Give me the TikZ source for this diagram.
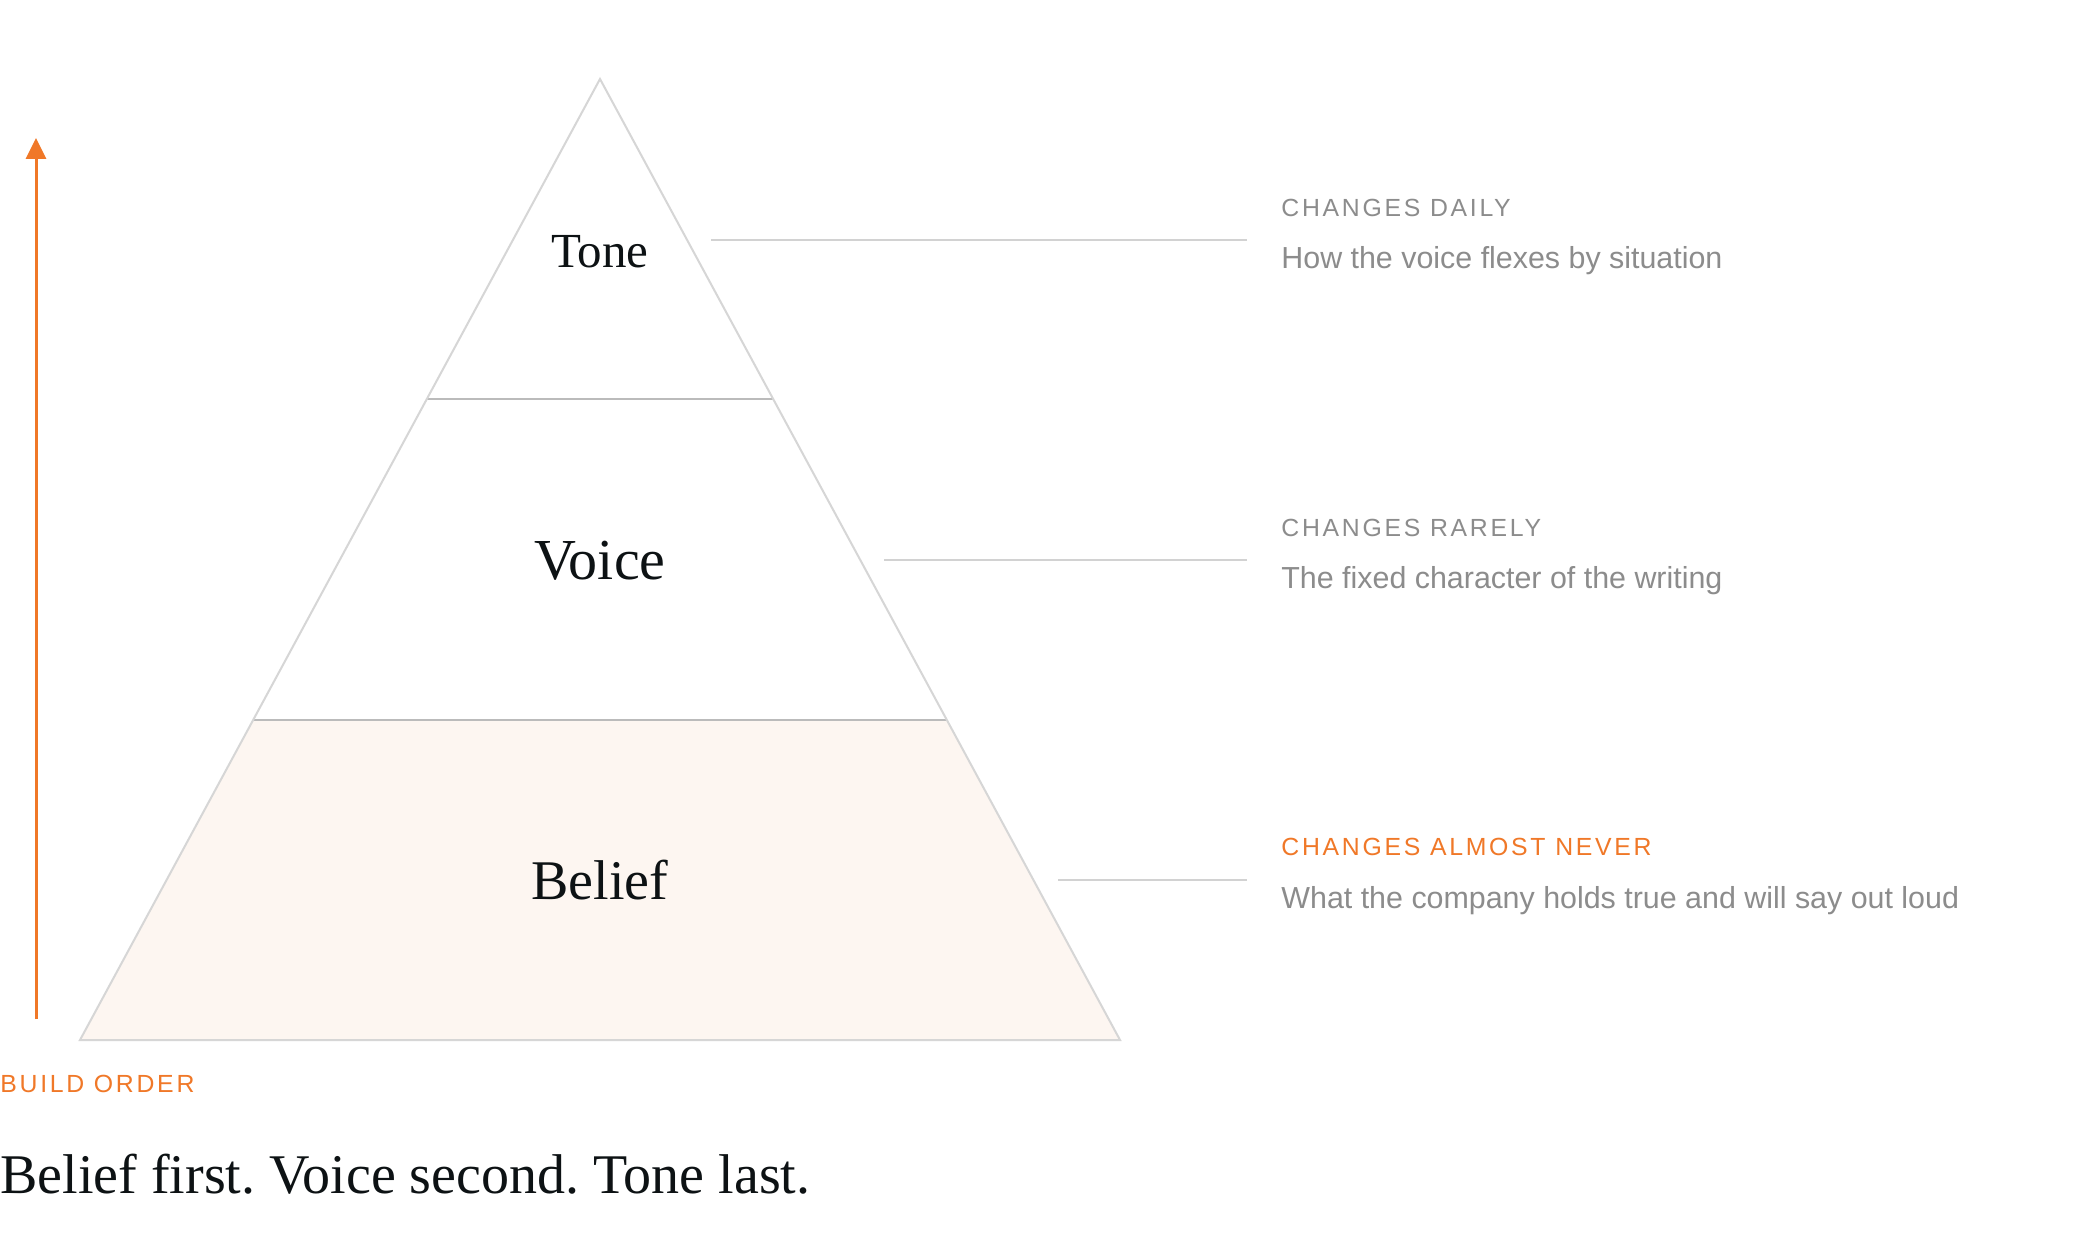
\documentclass[tikz,border=0pt]{standalone}
\usepackage{fontspec}
\setmainfont{Liberation Serif}
\newfontfamily\descfont{Liberation Sans}
\newfontfamily\capfont[LetterSpace=11]{Liberation Sans}
\usetikzlibrary{arrows.meta,calc}
\definecolor{accent}{HTML}{F07828}
\definecolor{inktext}{HTML}{0D1214}
\definecolor{greytext}{HTML}{8C8C8C}
\definecolor{edgegrey}{HTML}{D6D6D6}
\definecolor{divgrey}{HTML}{BBBBBB}
\definecolor{leadgrey}{HTML}{D2D2D2}
\definecolor{beliefbg}{HTML}{FDF6F1}
\frenchspacing
\tikzset{
  layerlabel/.style={anchor=base,inner sep=0pt,text=inktext},
  headlabel/.style={anchor=base west,inner sep=0pt,text=greytext,font=\capfont\fontsize{12.4}{14}\selectfont},
  desclabel/.style={anchor=base west,inner sep=0pt,text=greytext,font=\descfont\fontsize{15.2}{18}\selectfont},
  leader/.style={draw=leadgrey,line width=1pt},
  divider/.style={draw=divgrey,line width=1pt},
}
\begin{document}
\begin{tikzpicture}[x=0.5pt,y=-0.5pt]
\useasboundingbox[fill=white] (0,0) rectangle (2080,1240);
% pyramid corners
\coordinate (apex) at (600,79);
\coordinate (bl) at (80,1040);
\coordinate (br) at (1120,1040);
\coordinate (d1l) at ($(apex)!1/3!(bl)$);
\coordinate (d1r) at ($(apex)!1/3!(br)$);
\coordinate (d2l) at ($(apex)!2/3!(bl)$);
\coordinate (d2r) at ($(apex)!2/3!(br)$);
% belief fill
\fill[beliefbg] (d2l) -- (d2r) -- (br) -- (bl) -- cycle;
% dividers
\draw[divider] (d1l) -- (d1r);
\draw[divider] (d2l) -- (d2r);
% outline
\draw[edgegrey,line width=1pt,line join=miter] (apex) -- (br) -- (bl) -- cycle;
% layer labels
\node[layerlabel,font=\fontsize{24.5}{28}\selectfont] (tone) at (600,268) {Tone};
\node[layerlabel,font=\fontsize{29}{34}\selectfont] (voice) at (600,579) {Voice};
\node[layerlabel,font=\fontsize{28}{33}\selectfont] (belief) at (600,899) {Belief};
% leader lines
\coordinate (l1a) at (711,240);
\coordinate (l1b) at (1247,240);
\coordinate (l2a) at (884,560);
\coordinate (l2b) at (1247,560);
\coordinate (l3a) at (1058,880);
\coordinate (l3b) at (1247,880);
\draw[leader] (l1a) -- (l1b);
\draw[leader] (l2a) -- (l2b);
\draw[leader] (l3a) -- (l3b);
% right labels
\node[headlabel] (h1) at (1281,217) {CHANGES DAILY};
\node[desclabel] (t1) at (1281,269) {How the voice flexes by situation};
\node[headlabel] (h2) at (1281,536) {CHANGES RARELY};
\node[desclabel] (t2) at (1281,588) {The fixed character of the writing};
\node[headlabel,text=accent] (h3) at (1281,855) {CHANGES ALMOST NEVER};
\node[desclabel] (t3) at (1281,908) {What the company holds true and will say out loud};
% build order arrow
\coordinate (arrowfoot) at (36,1019);
\coordinate (arrowtip) at (36,138);
\draw[accent,line width=1.5pt,-{Triangle[width=10pt,length=10.5pt]}] (arrowfoot) -- (arrowtip);
\node[anchor=base west,inner sep=0pt,text=accent,font=\capfont\fontsize{12.4}{14}\selectfont] (build) at (0,1092) {BUILD ORDER};
% summary
\node[anchor=base west,inner sep=0pt,text=inktext,font=\fontsize{28}{33}\selectfont] (summary) at (0,1193) {Belief first. Voice second. Tone last.};
\end{tikzpicture}
\end{document}
